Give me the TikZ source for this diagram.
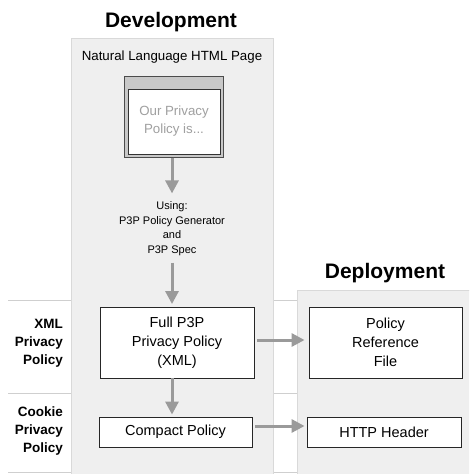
\documentclass[tikz,border=0pt]{standalone}
\usepackage{fontspec}
\setmainfont{Liberation Sans}
\usetikzlibrary{arrows.meta}
\definecolor{panelgray}{HTML}{EFEFEF}
\definecolor{panelborder}{HTML}{D9D9D9}
\definecolor{rulegray}{HTML}{CFCFCF}
\definecolor{arrowgray}{HTML}{9A9A9A}
\definecolor{titlebar}{HTML}{C8C8C8}
\definecolor{faint}{HTML}{A0A0A0}
\begin{document}
\begin{tikzpicture}[x=1pt,y=-1pt,
  panelbox/.style={fill=panelgray, draw=panelborder, line width=0.8pt},
  rowrule/.style={draw=rulegray, line width=0.8pt},
  titletext/.style={font=\fontsize{21}{24}\selectfont\bfseries},
  plaintext/.style={align=center, font=\fontsize{13.3}{18}\selectfont},
  smalltext/.style={align=center, inner sep=3pt, font=\fontsize{11}{14.5}\selectfont},
  rowlabel/.style={anchor=east, align=right, inner sep=0pt, font=\fontsize{13.5}{18}\selectfont\bfseries},
  boxnode/.style={draw=black!85, fill=white, line width=0.9pt, align=center, inner sep=0pt, font=\fontsize{14.5}{19}\selectfont},
  flow/.style={draw=arrowgray, line width=3pt, -{Triangle[length=13pt,width=13pt]}}
]
\clip (0,0) rectangle (469,474);
\fill[white] (0,0) rectangle (469,474);
% row rules
\draw[rowrule] (8,300) -- (469,300);
\draw[rowrule] (8,393) -- (469,393);
\draw[rowrule] (8,472) -- (469,472);
% panels
\draw[panelbox] (71,38) rectangle (273,490);
\draw[panelbox] (297,290) rectangle (480,490);
% titles
\node[titletext] (devtitle) at (171,22) {Development};
\node[titletext] (deptitle) at (385,273) {Deployment};
\node[plaintext] (nlpage) at (172,57) {Natural Language HTML Page};
% window icon
\node[draw=black!70, fill=titlebar, line width=1pt, minimum width=99pt, minimum height=81pt, inner sep=0pt] (win) at (173.5,116.5) {};
\node[draw=black!80, fill=white, line width=1pt, minimum width=92pt, minimum height=65pt, inner sep=0pt, text=faint, plaintext] (winbody) at (174,121.5) {Our Privacy\\Policy is...};
% using text
\node[smalltext] (using) at (172,228.5) {Using:\\P3P Policy Generator\\and\\P3P Spec};
% boxes
\node[boxnode, minimum width=154pt, minimum height=71pt] (full) at (177,342.5) {Full P3P\\Privacy Policy\\(XML)};
\node[boxnode, minimum width=153pt, minimum height=30pt] (compact) at (175.5,432) {Compact Policy};
\node[boxnode, minimum width=153pt, minimum height=71pt] (prf) at (385.5,342.5) {Policy\\Reference\\File};
\node[boxnode, minimum width=154pt, minimum height=30pt] (http) at (384,432) {HTTP Header};
% row labels
\node[rowlabel] (xmllabel) at (63,343.5) {XML\\Privacy\\Policy};
\node[rowlabel] (cookielabel) at (63,431.5) {Cookie\\Privacy\\Policy};
% arrow levels
\coordinate (lvlone) at (0,340);
\coordinate (lvltwo) at (0,426);
% arrows
\draw[flow, shorten >=5pt] (win.south -| using.north) -- (using.north);
\draw[flow, shorten <=4pt, shorten >=2.5pt] (using.south) -- (full.north -| using.south);
\draw[flow, shorten >=2pt] (full.south -| using.south) -- (compact.north -| using.south);
\draw[flow, shorten <=3pt, shorten >=4pt] (full.east |- lvlone) -- (prf.west |- lvlone);
\draw[flow, shorten <=3pt, shorten >=2pt] (compact.east |- lvltwo) -- (http.west |- lvltwo);
\end{tikzpicture}
\end{document}
